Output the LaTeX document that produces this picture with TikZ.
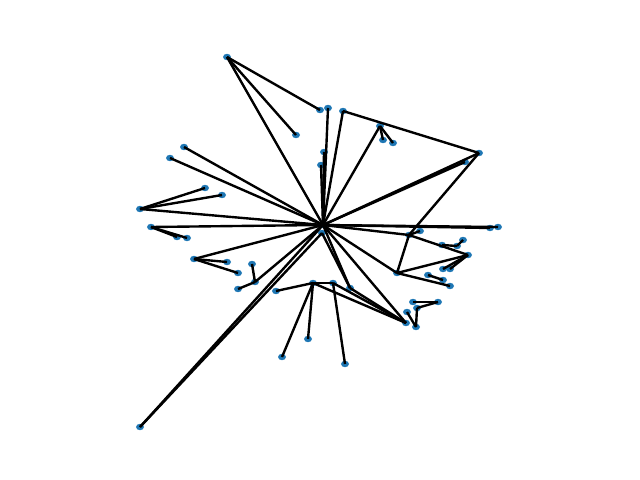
\documentclass[tikz,border=0pt]{standalone}
\usepackage{tikz}
\usetikzlibrary{shapes.geometric}
\definecolor{nodeblue}{RGB}{31,119,180}

\begin{document}
\begin{tikzpicture}[
  x=0.025cm, y=-0.025cm,
  dot/.style={ellipse, fill=nodeblue, draw=none, inner sep=0pt, minimum width=0.2cm, minimum height=0.16cm},
  link/.style={draw=black, line width=1.7pt}
]
  \useasboundingbox (0,0) rectangle (640,480);
  % nodes
  \foreach \name/\x/\y in {hub/323/225, hubb/322/233,
      n3/227/57, n4/320/110, n5/328/108, n6/296/135, n7/343/111, n8/380/126, n9/383/140, n10/393/143,
      n11/324/152, n12/321/165, n13/184/147, n14/170/158, n15/205/188, n16/222/195, n17/140/209,
      n18/151/227, n19/177/237, n20/187/238, n21/194/259, n22/227/262, n23/238/273, n24/252/264,
      n25/255/282, n26/238/289, n27/140/427, n28/276/291, n29/313/283, n30/333/283, n31/350/288,
      n32/308/339, n33/282/357, n34/345/364, n35/479/153, n36/465/162, n37/409/235, n38/420/231,
      n39/490/228, n40/498/227, n41/442/245, n42/457/246, n43/463/240, n44/468/255, n45/443/269,
      n46/450/269, n47/397/273, n48/428/275, n49/443/280, n50/450/286, n51/413/302, n52/438/302,
      n53/417/308, n54/407/312, n55/406/323, n56/416/327} {
    \node[dot] (\name) at (\x,\y) {};
  }
  % edges
  \foreach \a/\b in {hub/n3, hub/n17, hub/n13, hub/n14, hub/n18, hub/n21, hub/n25, hub/n27, hubb/n27,
      hub/n5, hub/n11, hub/n12, hub/n7, hub/n8, hub/n35, hub/n36, hub/n40, hub/n39, hub/n37,
      hub/n47, hub/n55, hub/n31, hubb/n31,
      n3/n4, n3/n6, n17/n15, n17/n16, n18/n19, n18/n20, n21/n22, n21/n23, n24/n25, n25/n26,
      n28/n29, n29/n30, n29/n32, n29/n33, n30/n34, n29/n55, n30/n55, n31/n55,
      n7/n35, n8/n9, n8/n10, n35/n37, n37/n38, n37/n47, n37/n44, n41/n42, n42/n43,
      n47/n44, n44/n45, n44/n46, n47/n50, n48/n49, n51/n52, n52/n53, n53/n56, n54/n56} {
    \draw[link] (\a.center) -- (\b.center);
  }
\end{tikzpicture}
\end{document}
